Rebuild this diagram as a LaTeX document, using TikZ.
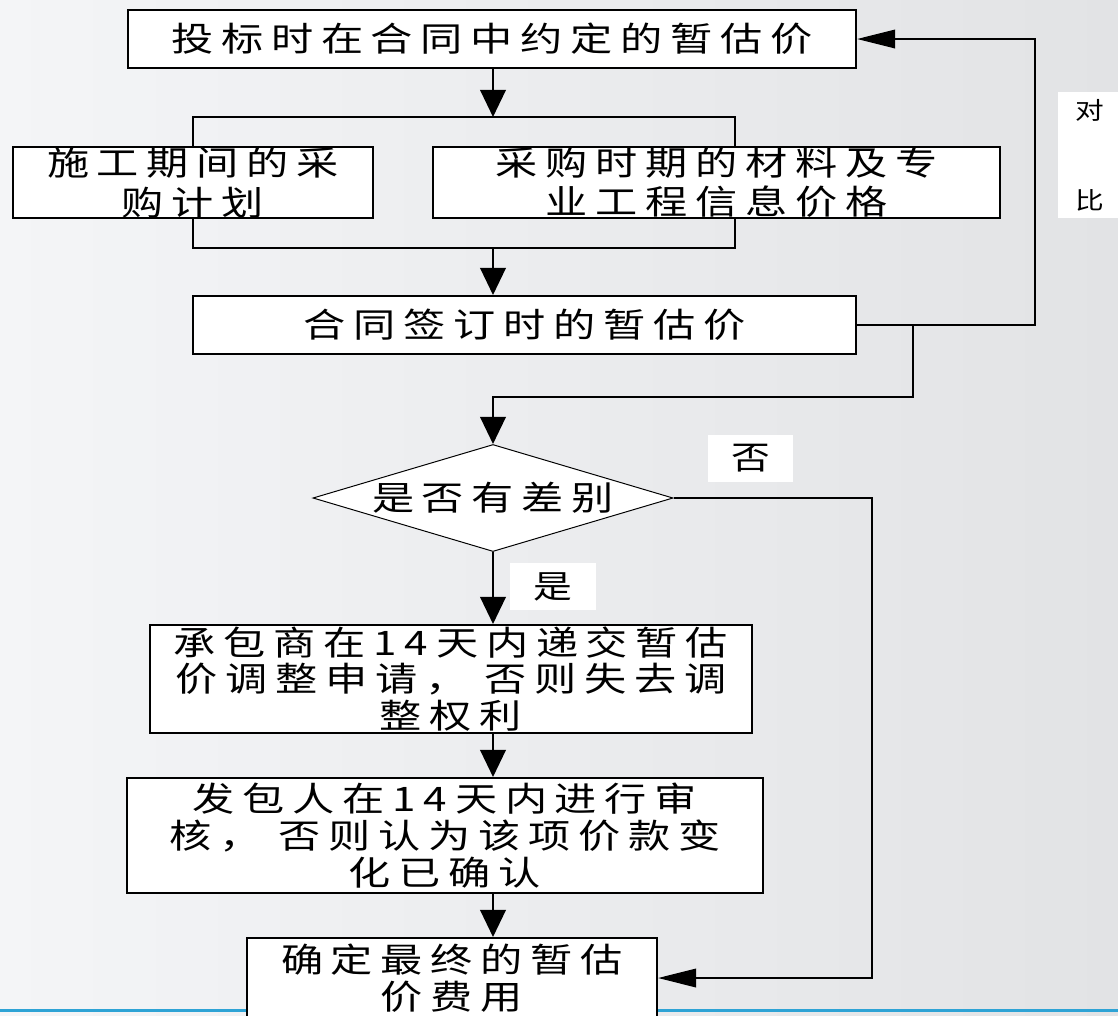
\documentclass[tikz,border=0pt]{standalone}
\usepackage{fontspec}
\usepackage{tikz}
\usetikzlibrary{arrows.meta,shapes.geometric}
\newfontfamily\cjk[FakeStretch=1.25,LetterSpace=23]{Noto Sans CJK SC}
\newfontfamily\cjklab[FakeStretch=1.2]{Noto Sans CJK SC}
\definecolor{fcBgL} {RGB}{244,245,247}
\definecolor{fcBgR} {RGB}{226,227,229}
\definecolor{fcBlue}{RGB}{ 46,163,213}

\begin{document}
\begin{tikzpicture}[x=0.025cm,y=-0.025cm,
  every node/.style={font=\cjk\fontsize{24}{26}\selectfont},
  box/.style={draw=black,line width=1.4pt,fill=white,align=center,inner sep=0pt},
  pair/.style={font=\cjk\fontsize{24}{28}\selectfont},
  dia/.style={diamond,draw=black,line width=0.7pt,fill=white,inner sep=-2pt,aspect=3.36,
              minimum width=9cm,minimum height=2.675cm},
  lab/.style={fill=white,inner sep=0pt,align=center,font=\cjklab\fontsize{23}{23}\selectfont},
  line/.style={draw=black,line width=1.6pt},
  arr/.style={line,-{Triangle[length=0.68cm,width=0.64cm]}},
  harr/.style={line,-{Triangle[length=0.95cm,width=0.46cm]}}
]
\clip (0,0) rectangle (1118,1015);
% Background and bottom rule
\shade[left color=fcBgL,right color=fcBgR] (0,0) rectangle (1118,1015);
\draw[fcBlue,line width=2.1pt] (0,1010.5) -- (1118,1010.5);
% Upper part
\node[box,minimum width=18.2cm,minimum height=1.45cm] (B1) at (492,39) {投标时在合同中约定的暂估价};
\node[box,pair,minimum width=9cm,minimum height=1.775cm] (B2) at (193,182.5) {施工期间的采\\购计划};
\node[box,pair,minimum width=14.175cm,minimum height=1.775cm] (B3) at (716.5,182.5) {采购时期的材料及专\\业工程信息价格};
\node[box,minimum width=16.575cm,minimum height=1.45cm] (B4) at (524.5,325) {合同签订时的暂估价};
% Decision and lower part
\node[dia] (D) at (493,498) {是否有差别};
\node[box,minimum width=15.05cm,minimum height=2.7cm] (B5) at (451,679) {承包商在14天内递交暂估\\价调整申请， 否则失去调\\整权利};
\node[box,minimum width=15.9cm,minimum height=2.875cm] (B6) at (445,835.5) {发包人在14天内进行审\\核， 否则认为该项价款变\\化已确认};
\node[box,minimum width=10.25cm,minimum height=2cm] (B7) at (452,978) {确定最终的暂估\\价费用};
% Labels
\node[lab,minimum width=2.125cm,minimum height=1.175cm] (No) at (750.5,458.5) {否};
\node[lab,minimum width=2.15cm,minimum height=1.175cm] (Yes) at (553,586.5) {是};
\node[lab,font=\cjklab\fontsize{17}{17}\selectfont,minimum width=1.6cm,minimum height=3.15cm] (Cmp) at (1090,155) {对\\[1.65cm]比};
% Junction points
\coordinate (jTop) at (493,117);
\coordinate (jBot) at (493,248);
\coordinate (jR) at (735,117);
\coordinate (fbR) at (1035,39);
\coordinate (dJoin) at (913,397);
\coordinate (noR) at (872,498);
% Connectors
\draw[arr] (B1.south -| jTop) -- (jTop);
\draw[line] (B2.north) |- (jR) -- (B3.north -| jR);
\draw[line] (B2.south) |- (jR |- jBot) -- (B3.south -| jR);
\draw[arr] (jBot) -- (jBot |- B4.north);
\draw[harr] (B4.east) -| (fbR) -- (B1.east);
\draw[arr] (B4.east -| dJoin) -- (dJoin) -| (D.north);
\draw[harr] (D.east) -- (noR) |- (B7.east);
\draw[arr] (D.south) -- (D.south |- B5.north);
\draw[arr] (D.south |- B5.south) -- (D.south |- B6.north);
\draw[arr] (D.south |- B6.south) -- (D.south |- B7.north);
\end{tikzpicture}
\end{document}
